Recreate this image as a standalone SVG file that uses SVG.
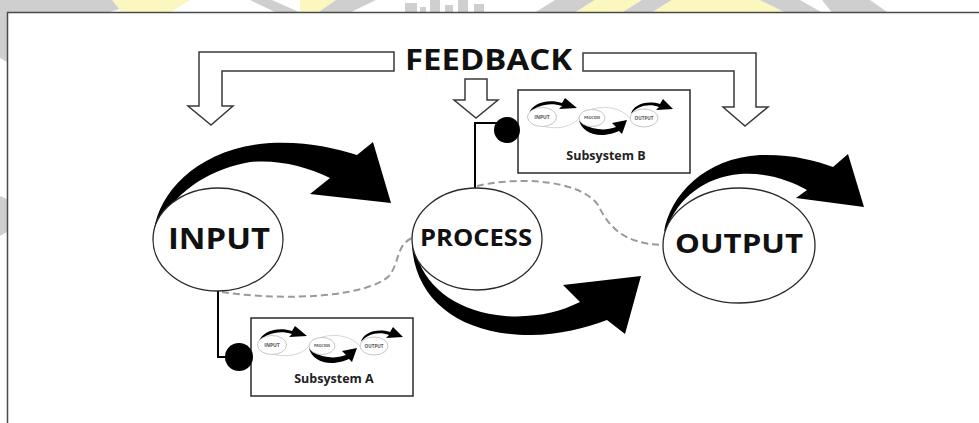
<svg xmlns="http://www.w3.org/2000/svg" xmlns:xlink="http://www.w3.org/1999/xlink" width="979" height="423" viewBox="0 0 979 423">
  <style>
    .wm-gray { fill: #cfcfcf; }
    .wm-yellow { fill: #fbf7bf; }
    .frame { fill: none; stroke: #4a4a4a; stroke-width: 1.5; }
    .fb-arrow { fill: #ffffff; stroke: #3a3a3a; stroke-width: 1.5; stroke-linejoin: miter; }
    .sweep { fill: #000000; }
    .node { fill: #ffffff; stroke: #2a2a2a; stroke-width: 1.3; }
    .label { font-family: "Open Sans", "Liberation Sans", sans-serif; font-weight: 700; fill: #111111; text-anchor: middle; }
    .dashed { fill: none; stroke: #9a9a9a; stroke-width: 2; stroke-dasharray: 7 4; }
    .link { fill: none; stroke: #000000; stroke-width: 2; }
    .dot { fill: #000000; }
    .box { fill: #ffffff; stroke: #2a2a2a; stroke-width: 1.5; }
    .box-title { font-family: "Open Sans", "Liberation Sans", sans-serif; font-weight: 700; font-size: 12.5px; fill: #222222; text-anchor: middle; }
    .mini-node { fill: #ffffff; stroke: #b8b8b8; stroke-width: 0.8; }
    .mini-link { fill: none; stroke: #cccccc; stroke-width: 0.8; }
    .mini-label { font-family: "Open Sans", "Liberation Sans", sans-serif; font-weight: 700; fill: #555555; text-anchor: middle; }
  </style>

  <defs>
    <!-- small input/process/output cycle shown inside each subsystem box; origin = INPUT centre -->
    <g id="mini-cycle">
      <path class="mini-link" d="M 0,9 C 15,13 30,10 37,1"/>
      <path class="mini-link" d="M 50,-8 C 66,-12 80,-8 88,1"/>
      <path class="sweep" d="M -13,-3 C -11,-13 5,-19 20,-14 L 23,-19 L 35,-9 L 17,-8 L 20,-11 C 8,-15 -6,-12 -13,-3 Z"/>
      <path class="sweep" d="M 37,3 C 39,13 50,19 62,18 C 68,17 73,16 77,14 L 80,17 L 85,3 L 70,6 L 74,10 C 68,12 62,13 56,12 C 48,11 41,8 38,4 Z"/>
      <path class="sweep" d="M 89,-3 C 91,-12 104,-17 118,-13 L 121,-18 L 131,-8 L 114,-7 L 117,-10 C 107,-14 95,-11 89,-3 Z"/>
      <ellipse class="mini-node" cx="0" cy="0" rx="14.5" ry="9.5"/>
      <ellipse class="mini-node" cx="50" cy="1" rx="13" ry="8.5"/>
      <ellipse class="mini-node" cx="102" cy="1" rx="14" ry="9"/>
      <text class="mini-label" x="0" y="1.8" font-size="5">INPUT</text>
      <text class="mini-label" x="50" y="2.4" font-size="3.6">PROCESS</text>
      <text class="mini-label" x="102" y="2.6" font-size="4.6">OUTPUT</text>
    </g>
  </defs>

  <rect x="0" y="0" width="979" height="423" fill="#ffffff"/>

  <!-- faint background emblem above and left of the frame -->
  <g id="backdrop">
    <polygon class="wm-gray" points="0,0 150,0 108,12.5 0,12.5"/>
    <polygon class="wm-yellow" points="112,0 190,0 170,12.5 122,12.5"/>
    <polygon class="wm-gray" points="250,0 272,0 300,12.5 276,12.5"/>
    <polygon class="wm-yellow" points="300,0 336,0 318,12.5 300,12.5"/>
    <polygon class="wm-gray" points="336,0 376,0 350,12.5 318,12.5"/>
    <rect class="wm-gray" x="405" y="3" width="12" height="10"/>
    <rect class="wm-gray" x="420" y="7" width="6" height="6"/>
    <rect class="wm-gray" x="430" y="0" width="10" height="13"/>
    <rect class="wm-gray" x="445" y="5" width="8" height="8"/>
    <rect class="wm-gray" x="458" y="0" width="10" height="13"/>
    <rect class="wm-gray" x="474" y="4" width="10" height="9"/>
    <polygon class="wm-gray" points="555,0 595,0 575,12.5 535,12.5"/>
    <polygon class="wm-yellow" points="595,0 642,0 622,12.5 575,12.5"/>
    <polygon class="wm-gray" points="642,0 672,0 652,12.5 622,12.5"/>
    <polygon class="wm-yellow" points="672,0 760,0 785,12.5 652,12.5"/>
    <polygon class="wm-gray" points="760,0 800,0 822,12.5 785,12.5"/>
    <polygon class="wm-gray" points="822,0 870,0 888,12.5 832,12.5"/>
    <polygon class="wm-gray" points="0,12 7,12 7,62 0,58"/>
    <polygon class="wm-gray" points="0,196 7,199 7,232 0,236"/>
  </g>

  <!-- page frame -->
  <path class="frame" d="M 7.5,423 L 7.5,12.5 L 979,12.5"/>

  <!-- dashed flow lines and attachment links -->
  <g id="connectors">
    <path class="dashed" d="M 222,292 C 290,302 368,296 389,276 C 400,262 396,245 412,238"/>
    <path class="dashed" d="M 477,186 C 520,176 580,180 598,205 C 608,225 622,244 663,245"/>
    <polyline class="link" points="218,291 218,357 239,357"/>
    <polyline class="link" points="475,188 475,123 507,123"/>
  </g>

  <!-- feedback banner -->
  <g id="feedback">
    <polygon class="fb-arrow" points="394,52 199,52 199,106 188,106 211,125 233,106 222,106 222,71 394,71"/>
    <polygon class="fb-arrow" points="583,53 756,53 756,107 768,107 745,126 723,107 734,107 734,71 583,71"/>
    <polygon class="fb-arrow" points="465,79 487,79 487,100 498,100 476,118 454,100 465,100"/>
    <text class="label" x="488.5" y="70" font-size="28" textLength="167" lengthAdjust="spacingAndGlyphs">FEEDBACK</text>
  </g>

  <!-- INPUT -->
  <g id="input">
    <path class="sweep" d="M 154,230 C 160,190 200,148 270,143 C 305,141 335,148 357,155 L 373,142 L 391,203 L 310,194 L 330,178 C 305,165 270,158 245,163 C 205,171 172,195 157,228 Z"/>
    <ellipse class="node" cx="218" cy="239.5" rx="65" ry="51.5"/>
    <text class="label" x="219" y="249" font-size="29" textLength="102" lengthAdjust="spacingAndGlyphs">INPUT</text>
  </g>

  <!-- PROCESS -->
  <g id="process">
    <path class="sweep" d="M 412,245 C 415,300 460,335 530,335 C 560,335 585,328 607,320 L 625,334 L 641,276 L 563,285 L 580,302 C 560,312 535,318 505,316 C 460,312 428,290 417,257 Z"/>
    <ellipse class="node" cx="477" cy="239" rx="65" ry="51"/>
    <text class="label" x="476" y="246" font-size="24" textLength="112" lengthAdjust="spacingAndGlyphs">PROCESS</text>
  </g>

  <!-- OUTPUT -->
  <g id="output">
    <path class="sweep" d="M 664,232 C 670,195 705,158 760,155 C 790,154 815,160 833,167 L 848,154 L 864,207 L 796,198 L 807,190 C 790,180 765,172 740,174 C 705,177 678,198 667,228 Z"/>
    <ellipse class="node" cx="739" cy="245.5" rx="76" ry="57.5"/>
    <text class="label" x="739" y="253" font-size="26" textLength="128" lengthAdjust="spacingAndGlyphs">OUTPUT</text>
  </g>

  <!-- Subsystem A -->
  <g id="subsystem-a">
    <rect class="box" x="251" y="318" width="162" height="78"/>
    <use xlink:href="#mini-cycle" transform="translate(272,345)"/>
    <text class="box-title" x="334" y="383">Subsystem A</text>
    <circle class="dot" cx="239" cy="357" r="14"/>
  </g>

  <!-- Subsystem B -->
  <g id="subsystem-b">
    <rect class="box" x="518" y="90" width="172" height="83"/>
    <use xlink:href="#mini-cycle" transform="translate(542,117)"/>
    <text class="box-title" x="606" y="160">Subsystem B</text>
    <circle class="dot" cx="507" cy="130" r="13"/>
  </g>
</svg>
